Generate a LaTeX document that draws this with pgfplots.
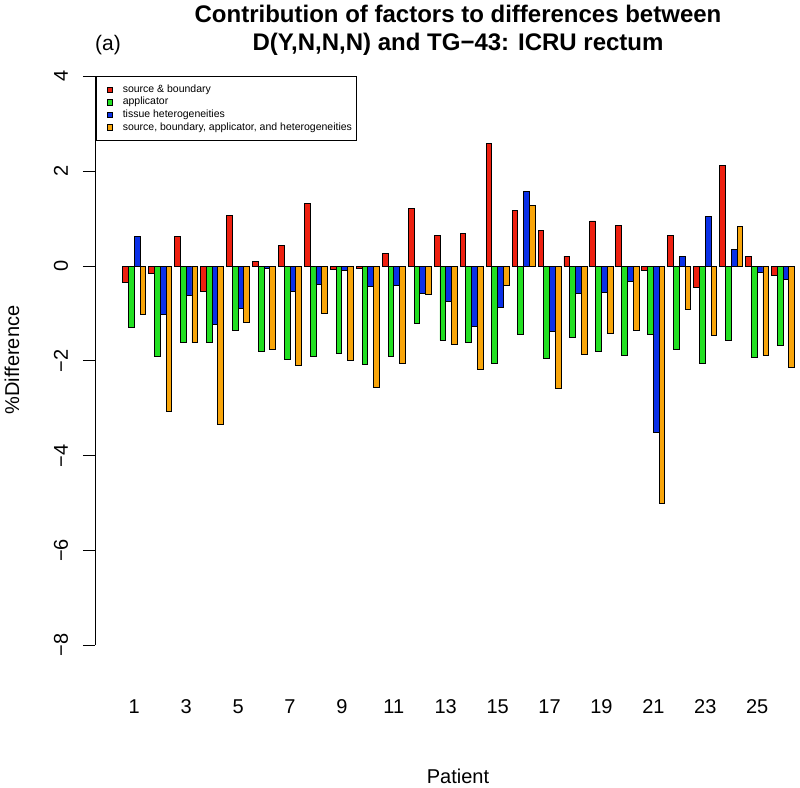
\documentclass[border=0pt]{standalone}
\usepackage{fontspec}
\setmainfont{Liberation Sans}
\usepackage{pgfplots}
\pgfplotsset{compat=1.18}
\usepackage{pgfplotstable}
\definecolor{cred}{HTML}{EE2010}
\definecolor{cgreen}{HTML}{22E022}
\definecolor{cblue}{HTML}{0A30E8}
\definecolor{corange}{HTML}{F8A50A}
\pgfplotstableread{
p r g b o
1 -0.35 -1.29 0.63 -1.02
2 -0.15 -1.91 -1.03 -3.07
3 0.63 -1.62 -0.63 -1.62
4 -0.53 -1.62 -1.23 -3.35
5 1.07 -1.36 -0.89 -1.20
6 0.10 -1.81 -0.05 -1.77
7 0.43 -1.97 -0.53 -2.09
8 1.31 -1.90 -0.39 -1.01
9 -0.07 -1.84 -0.10 -2.00
10 -0.06 -2.08 -0.44 -2.57
11 0.27 -1.91 -0.41 -2.06
12 1.22 -1.22 -0.58 -0.60
13 0.65 -1.57 -0.74 -1.65
14 0.68 -1.61 -1.27 -2.19
15 2.59 -2.06 -0.88 -0.41
16 1.17 -1.44 1.58 1.27
17 0.74 -1.96 -1.38 -2.59
18 0.21 -1.50 -0.58 -1.86
19 0.95 -1.81 -0.56 -1.43
20 0.86 -1.88 -0.32 -1.36
21 -0.09 -1.44 -3.52 -5.01
22 0.65 -1.75 0.20 -0.91
23 -0.45 -2.05 1.05 -1.46
24 2.12 -1.57 0.34 0.84
25 0.20 -1.93 -0.13 -1.88
26 -0.19 -1.67 -0.29 -2.13
}\data
\begin{document}
\begin{tikzpicture}[x=1pt,y=1pt]
\begin{axis}[
  at={(95pt,-667pt)}, anchor=south west,
  scale only axis, width=705pt, height=615pt,
  xmin=-0.514, xmax=26.65, ymin=-8.46, ymax=4.515,
  axis x line*=bottom, axis y line*=left,
  x axis line style={draw=none}, y axis line style={draw=none},
  xtick={1,3,...,25}, xticklabels={1,3,5,7,9,11,13,15,17,19,21,23,25},
  x tick style={draw=none},
  xticklabel style={font=\fontsize{20}{24}\selectfont, anchor=base, yshift=-34pt},
  ytick={-8,-6,-4,-2,0,2,4}, yticklabels={−8,−6,−4,−2,0,2,4},
  y tick style={black, line width=0.8pt},
  tick align=outside, major tick length=12pt,
  yticklabel style={font=\fontsize{20}{24}\selectfont, rotate=90, anchor=center, yshift=22pt},
  ybar=0pt, bar width=0.2222,
  clip=false,
  every axis plot/.append style={draw=black, line width=0.9pt},
  legend cell align=left,
  legend image code/.code={\path (0pt,0pt) (21pt,0pt); \draw[#1,line width=0.6pt] (10pt,-2.75pt) rectangle (15.5pt,2.75pt);},
  legend style={at={(rel axis cs:0.0014,0.961)}, anchor=north west, draw=black, line width=0.8pt,
    font=\fontsize{10.5}{12}\selectfont, inner xsep=0pt, inner ysep=7pt,
    nodes={inner xsep=4.5pt, inner ysep=1.4pt, text height=7.6pt, text depth=2.2pt}},
]
\addplot[fill=cred, bar shift=-0.3333] table[x=p,y=r]{\data};
\addplot[fill=cgreen, bar shift=-0.1111] table[x=p,y=g]{\data};
\addplot[fill=cblue, bar shift=0.1111] table[x=p,y=b]{\data};
\addplot[fill=corange, bar shift=0.3333] table[x=p,y=o]{\data};
\legend{source \& boundary, applicator, tissue heterogeneities, {source, boundary, applicator, and heterogeneities}}
\draw[line width=0.8pt] (axis cs:-0.514,-8) -- (axis cs:-0.514,4);
\end{axis}
\node[anchor=base, font=\bfseries\fontsize{24}{28}\selectfont] at (458pt,-22pt) {Contribution of factors to differences between};
\node[anchor=base, font=\bfseries\fontsize{24}{28}\selectfont] at (458pt,-50pt) {D(Y,N,N,N) and TG−43: ICRU rectum};
\node[anchor=base, font=\fontsize{21}{24}\selectfont] at (108pt,-50pt) {(a)};
\node[anchor=base, font=\fontsize{20}{24}\selectfont] at (458pt,-783pt) {Patient};
\node[anchor=base, rotate=90, font=\fontsize{20}{24}\selectfont] at (19pt,-360pt) {\%Difference};
\pgfresetboundingbox
\path[use as bounding box] (0pt,0pt) rectangle (800pt,-787pt);
\end{tikzpicture}
\end{document}
